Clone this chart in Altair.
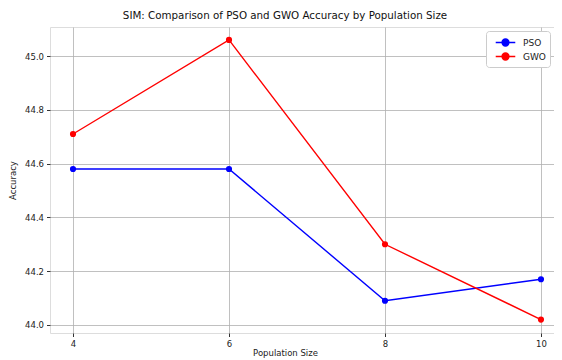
import altair as alt
import pandas as pd

population = [4, 6, 8, 10]
pso = [44.58, 44.58, 44.09, 44.17]
gwo = [44.71, 45.06, 44.30, 44.02]
series = ["PSO", "GWO"]
colors = ["#0000ff", "#ff0000"]
x_ticks = [4, 6, 8, 10]
y_ticks = [44.0, 44.2, 44.4, 44.6, 44.8, 45.0]

rows = []
for name, vals in zip(series, [pso, gwo]):
    for p, v in zip(population, vals):
        rows.append({"Population Size": p, "Accuracy": v, "Series": name})
df = pd.DataFrame(rows)

FONT = "DejaVu Sans"
legend_path = "M-1.5,0L1.5,0M-0.52,0A0.52,0.52 0 1,1 0.52,0A0.52,0.52 0 1,1 -0.52,0Z"

x = alt.X("Population Size:Q",
          scale=alt.Scale(domain=[3.705, 10.167], nice=False, zero=False),
          axis=alt.Axis(values=x_ticks, format="d", title="Population Size",
                        grid=True, gridColor="#b0b0b0", gridWidth=0.8,
                        domain=False, tickColor="#333", tickSize=3.5,
                        labelFontSize=8.5, titleFontSize=8.5, labelPadding=3,
                        titleX=235, titleY=22, titleBaseline="alphabetic",
                        labelFont=FONT, titleFont=FONT,
                        labelColor="#222", titleColor="#222", titleFontWeight="normal"))
y = alt.Y("Accuracy:Q",
          scale=alt.Scale(domain=[43.97, 45.108], nice=False, zero=False),
          axis=alt.Axis(values=y_ticks, format=".1f", title="Accuracy",
                        grid=True, gridColor="#b0b0b0", gridWidth=0.8,
                        domain=False, tickColor="#333", tickSize=3.5,
                        labelFontSize=8.5, titleFontSize=8.5, labelPadding=3,
                        titlePadding=7, labelFont=FONT, titleFont=FONT,
                        labelColor="#222", titleColor="#222", titleFontWeight="normal"))
color = alt.Color("Series:N",
                  scale=alt.Scale(domain=series, range=colors),
                  legend=alt.Legend(title=None, orient="none", legendX=436, legendY=4,
                                    symbolType=legend_path, symbolSize=170,
                                    symbolStrokeWidth=1.5, labelFontSize=9,
                                    labelFont=FONT, labelColor="#222",
                                    fillColor="white", strokeColor="#cccccc",
                                    cornerRadius=3, padding=4, rowPadding=0,
                                    symbolOffset=8, labelOffset=10))

base = alt.Chart(df)
lines = base.mark_line(strokeWidth=1.4).encode(x=x, y=y, color=color)
points = base.mark_point(filled=True, size=38, opacity=1, shape="circle").encode(
    x=x, y=y, color=alt.Color("Series:N", scale=alt.Scale(domain=series, range=colors), legend=None))

chart = alt.layer(lines, points).properties(
    width=504, height=306,
    title=alt.Title("SIM: Comparison of PSO and GWO Accuracy by Population Size",
                    fontSize=10.3, font=FONT, fontWeight="normal", color="#111",
                    anchor="middle", offset=6, dx=-17),
    padding={"left": 42, "top": 19, "right": 0, "bottom": 25},
    autosize=alt.AutoSizeParams(type="none"),
).configure_view(stroke="#333", strokeWidth=1).configure(background="white")

chart.save("out.html", embed_options={"renderer": "svg", "actions": False})
